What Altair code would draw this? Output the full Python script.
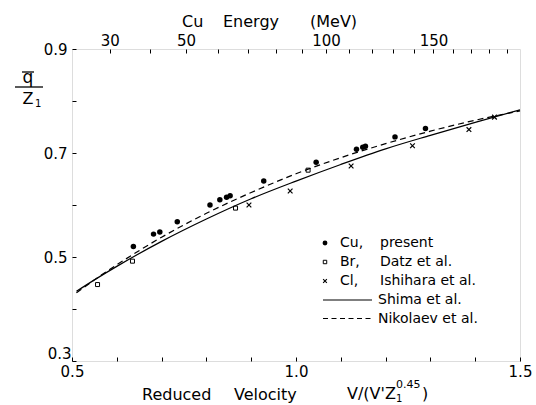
import altair as alt
import pandas as pd

# ---- values ----
cu_v = [0.637, 0.682, 0.696, 0.735, 0.808, 0.830, 0.845, 0.853, 0.928, 1.045, 1.135, 1.149, 1.155, 1.221, 1.289]
cu_q = [0.520, 0.544, 0.548, 0.568, 0.600, 0.610, 0.615, 0.618, 0.646, 0.682, 0.707, 0.711, 0.713, 0.731, 0.747]
br_v = [0.557, 0.635, 0.865, 1.027]
br_q = [0.447, 0.492, 0.594, 0.667]
cl_v = [0.895, 0.987, 1.123, 1.260, 1.386, 1.443]
cl_q = [0.600, 0.627, 0.675, 0.714, 0.745, 0.769]
curve_v = [0.51, 0.55, 0.6, 0.7, 0.8, 0.9, 1.0, 1.1, 1.2, 1.3, 1.4, 1.5]
shima_q = [0.434, 0.456, 0.482, 0.530, 0.573, 0.612, 0.646, 0.678, 0.708, 0.734, 0.759, 0.783]
nikolaev_q = [0.431, 0.456, 0.485, 0.538, 0.584, 0.624, 0.660, 0.691, 0.718, 0.742, 0.763, 0.781]

v_ticks = [0.5, 0.6, 0.7, 0.8, 0.9, 1.0, 1.1, 1.2, 1.3, 1.4, 1.5]
v_labels = [0.5, 1.0, 1.5]
q_ticks = [0.3, 0.4, 0.5, 0.6, 0.7, 0.8, 0.9]
q_labels = [0.5, 0.7, 0.9]
q_corner_label = [0.3]
energy_ticks = [30, 40, 50, 60, 70, 80, 90, 100, 110, 120, 130, 140, 150, 160, 170, 180, 190]
energy_labels = [30, 50, 100, 150]
energy_domain = [21.96, 197.6]  # Cu energy (MeV) at reduced velocity 0.5 and 1.5

legend_first = ["Cu,", "Br,", "Cl,"]
legend_second = ["present", "Datz et al.", "Ishihara et al.", "Shima et al.", "Nikolaev et al."]

FONT = "DejaVu Sans"
W, H = 448, 312

cu = pd.DataFrame({"v": cu_v, "q": cu_q})
br = pd.DataFrame({"v": br_v, "q": br_q})
cl = pd.DataFrame({"v": cl_v, "q": cl_q})
curves = pd.DataFrame({"v": curve_v, "shima": shima_q, "nikolaev": nikolaev_q})
etick = pd.DataFrame({"E": energy_ticks})
qcorner = pd.DataFrame({"q": q_corner_label})
one = pd.DataFrame({"a": [0]})

xs = alt.Scale(domain=[0.5, 1.5], nice=False, zero=False)
ys = alt.Scale(domain=[0.3, 0.9], nice=False, zero=False)


def label_expr(vals, fmt):
    cond = " || ".join(f"datum.value == {v}" for v in vals)
    return f"({cond}) ? format(datum.value, '{fmt}') : ''"


common_axis = dict(domain=False, grid=False, tickSize=4, tickColor="black",
                   tickWidth=1, offset=-4, labelFont=FONT, labelFontSize=15,
                   labelColor="black", title=None, labelFlush=False, labelOverlap=False)

x_axis = alt.Axis(orient="bottom", values=v_ticks, labelExpr=label_expr(v_labels, ".1f"),
                  labelPadding=3, ticks=True, **common_axis)
y_axis = alt.Axis(orient="left", values=q_ticks, labelExpr=label_expr(q_labels, ".1f"),
                  labelPadding=5, ticks=True, **common_axis)
y_corner_axis = alt.Axis(orient="left", values=q_corner_label, format=".1f", labelPadding=5,
                         labelOffset=-8, ticks=False, **common_axis)
top_axis = alt.Axis(orient="top", values=energy_ticks, labelExpr=label_expr(energy_labels, "d"),
                    labelPadding=1, ticks=True, **common_axis)

base = alt.Chart(curves)

shima = base.mark_line(color="black", strokeWidth=1.2, interpolate="monotone").encode(
    x=alt.X("v:Q", scale=xs, axis=x_axis),
    y=alt.Y("shima:Q", scale=ys, axis=y_axis),
)
nik = base.mark_line(color="black", strokeWidth=1.2, strokeDash=[6, 4], interpolate="monotone").encode(
    x=alt.X("v:Q", scale=xs, axis=None),
    y=alt.Y("nikolaev:Q", scale=ys, axis=None),
)

cu_pts = alt.Chart(cu).mark_point(shape="circle", filled=True, color="black", size=30, opacity=1).encode(
    x=alt.X("v:Q", scale=xs, axis=None), y=alt.Y("q:Q", scale=ys, axis=None))
br_pts = alt.Chart(br).mark_point(shape="square", filled=False, color="black", size=16,
                                  strokeWidth=1, opacity=1).encode(
    x=alt.X("v:Q", scale=xs, axis=None), y=alt.Y("q:Q", scale=ys, axis=None))
XSHAPE = "M-1,-1L1,1M1,-1L-1,1"
cl_pts = alt.Chart(cl).mark_point(shape=XSHAPE, filled=False, color="black", size=22,
                                  strokeWidth=1.2, opacity=1).encode(
    x=alt.X("v:Q", scale=xs, axis=None), y=alt.Y("q:Q", scale=ys, axis=None))

top = alt.Chart(etick).mark_point(opacity=0).encode(
    x=alt.X("E:Q", scale=alt.Scale(type="sqrt", domain=energy_domain, nice=False, zero=False), axis=top_axis),
    y=alt.value(0),
)

corner = alt.Chart(qcorner).mark_point(opacity=0).encode(
    x=alt.value(0),
    y=alt.Y("q:Q", scale=ys, axis=y_corner_axis),
)

# ---- legend (inside plot, lower right) ----
rows_y = [194, 213, 232, 251, 269.5]
sym_x = 253
leg = []
leg.append(alt.Chart(one).mark_point(shape="circle", filled=True, color="black", size=24, opacity=1)
           .encode(x=alt.value(sym_x), y=alt.value(rows_y[0])))
leg.append(alt.Chart(one).mark_point(shape="square", filled=False, color="black", size=12, strokeWidth=1, opacity=1)
           .encode(x=alt.value(sym_x), y=alt.value(rows_y[1])))
leg.append(alt.Chart(one).mark_point(shape=XSHAPE, filled=False, color="black", size=14, strokeWidth=1.1, opacity=1)
           .encode(x=alt.value(sym_x), y=alt.value(rows_y[2])))
leg.append(alt.Chart(one).mark_rule(color="black", strokeWidth=1.1)
           .encode(x=alt.value(251), x2=alt.value(300), y=alt.value(rows_y[3])))
leg.append(alt.Chart(one).mark_rule(color="black", strokeWidth=1.1, strokeDash=[5, 3.5])
           .encode(x=alt.value(251), x2=alt.value(300), y=alt.value(rows_y[4])))
for i, t in enumerate(legend_first):
    leg.append(alt.Chart(one).mark_text(align="left", baseline="middle", font=FONT, fontSize=14, color="black")
               .encode(x=alt.value(268), y=alt.value(rows_y[i]), text=alt.value(t)))
for i, t in enumerate(legend_second):
    xx = 308 if i < 3 else 306
    leg.append(alt.Chart(one).mark_text(align="left", baseline="middle", font=FONT, fontSize=14, color="black")
               .encode(x=alt.value(xx), y=alt.value(rows_y[i]), text=alt.value(t)))


def txt(t, x, y, size=16, align="left", baseline="alphabetic"):
    return alt.Chart(one).mark_text(align=align, baseline=baseline, font=FONT, fontSize=size,
                                    color="black").encode(x=alt.value(x), y=alt.value(y), text=alt.value(t))


def rule(x1, x2, y, w=1.2):
    return alt.Chart(one).mark_rule(color="black", strokeWidth=w).encode(
        x=alt.value(x1), x2=alt.value(x2), y=alt.value(y))


ann = [
    # top title
    txt("Cu", 110, -22), txt("Energy", 151, -22), txt("(MeV)", 238, -22),
    # bottom title
    txt("Reduced", 70, 351), txt("Velocity", 162, 351),
    txt("V/(V'Z", 275, 350), txt("1", 324, 353, size=10), txt("0.45", 324, 339, size=11),
    txt(")", 350, 350),
    # y title  q-bar over Z1
    txt("q", -44, 34, size=17, align="center"), rule(-50, -38, 23, 1.3),
    rule(-57, -29, 38, 1.3),
    txt("Z", -44, 55, size=16, align="center"), txt("1", -37, 58, size=10, align="left"),
]

chart = alt.layer(shima, nik, cu_pts, br_pts, cl_pts, top, corner, *leg, *ann).resolve_scale(
    x="independent", y="independent"
).properties(
    width=W, height=H,
    autosize=alt.AutoSizeParams(type="none"),
    padding={"left": 72, "top": 49, "right": 16, "bottom": 44},
).configure_view(stroke="black", strokeWidth=1.2).configure(font=FONT, background="white")

chart.save("out.html", embed_options={"renderer": "svg", "actions": False})
